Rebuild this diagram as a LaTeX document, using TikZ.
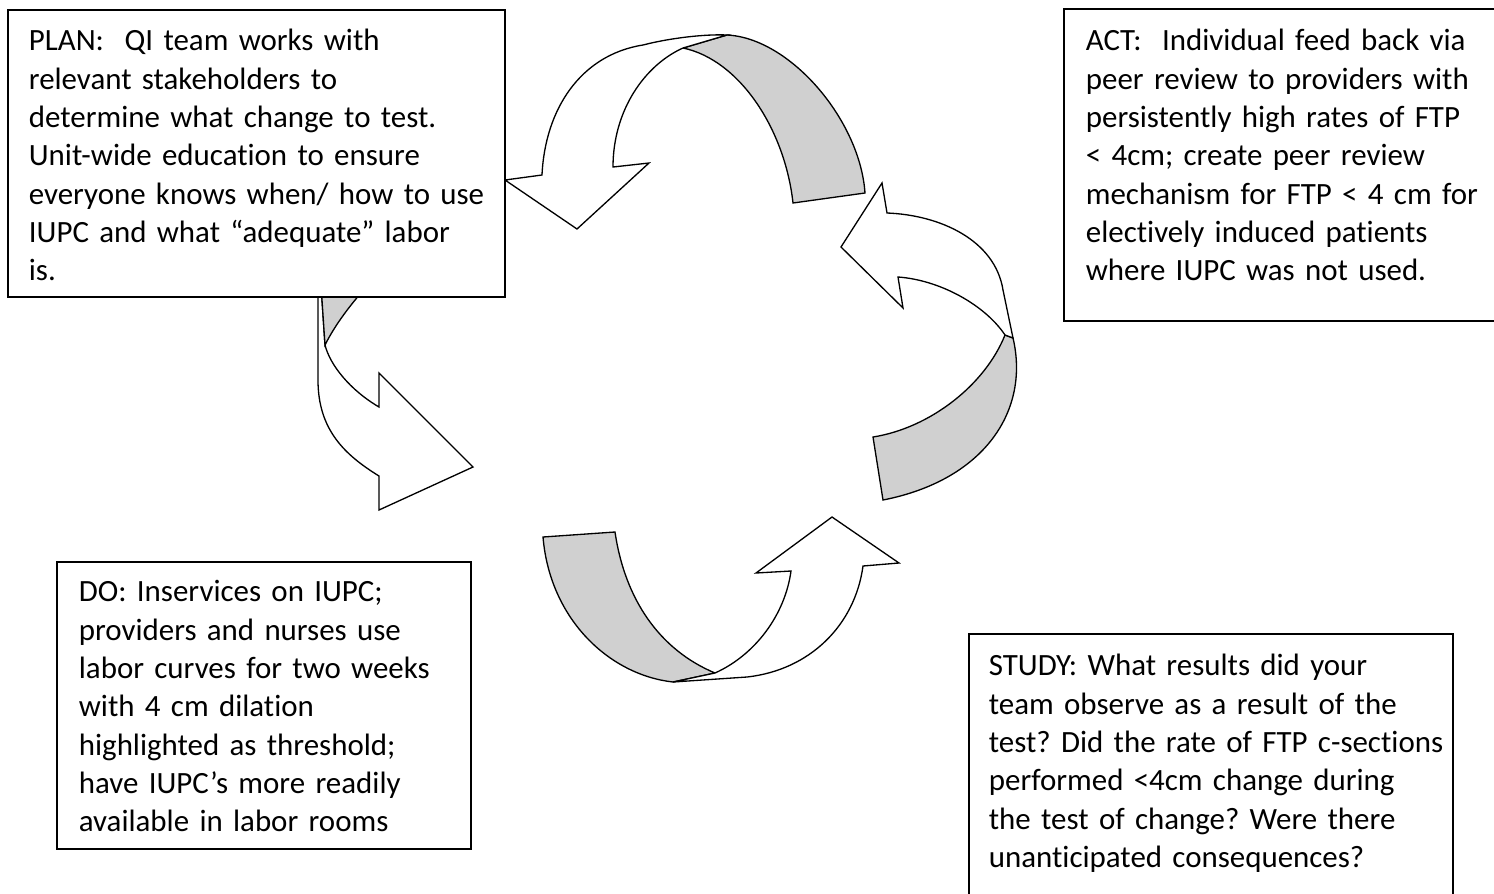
\documentclass[tikz,border=0pt]{standalone}
\usepackage{fontspec}
\setmainfont{Carlito}[Ligatures=NoCommon]
\usepackage{tikz}
\usetikzlibrary{positioning}
\definecolor{bandgray}{RGB}{208,208,208}
\frenchspacing

\begin{document}
\begin{tikzpicture}[
    x=0.02cm,
    y=-0.02cm,
    font=\fontsize{17.6}{21.8}\selectfont,
    stage/.style={
		rectangle,
		draw=black,
		line width=1pt,
		fill=white,
		anchor=north west,
		align=left,
		inner ysep=0pt
	},
	front/.style={
		draw=black,
		line width=0.75pt,
		fill=white
	},
	band/.style={
		front,
		fill=bandgray
	}
  ]
  \useasboundingbox (0,0) rectangle (1494,893);

    % The bent arrows go first, the blocks are laid on top of them

  % top arrow
  \draw [band] (683,48) -- (727,35) .. controls (790,38) and (860,120) .. (865,193) -- (793,203) .. controls (785,130) and (740,60) .. (683,48) -- cycle;
  \draw [front] (727,35) .. controls (705,34) and (670,38) .. (643,45) .. controls (580,55) and (545,110) .. (542,175) -- (505,180) -- (577,229) -- (649,163) -- (613,167) .. controls (613,110) and (645,65) .. (683,48) -- cycle;

  % left arrow
  \draw [front] (318,285) -- (318,380) .. controls (318,430) and (345,455) .. (379,476) -- (379,510) -- (473,467) -- (379,373) -- (379,407) .. controls (350,390) and (330,365) .. (325,345) -- (321,285) -- cycle;
  \draw [band] (321,285) -- (325,345) .. controls (335,325) and (350,305) .. (368,285) -- cycle;

  % bottom arrow
  \draw [band] (543,537) -- (615,532) .. controls (625,600) and (660,650) .. (715,673) -- (673,682) .. controls (610,675) and (550,620) .. (543,537) -- cycle;
  \draw [front] (673,682) -- (747,677) .. controls (810,670) and (855,625) .. (863,566) -- (899,563) -- (832,517) -- (756,573) -- (791,571) .. controls (785,615) and (755,655) .. (715,673) -- cycle;

  % right arrow
  \draw [band] (1005,335) -- (1013,338) .. controls (1030,410) and (985,480) .. (883,500) -- (873,437) .. controls (930,428) and (985,385) .. (1005,335) -- cycle;
  \draw [front] (1013,338) -- (1003,290) .. controls (995,240) and (940,215) .. (887,213) -- (882,183) -- (841,247) -- (903,308) -- (898,277) .. controls (940,280) and (985,305) .. (1005,335) -- cycle;

  \node [stage, inner xsep=0.42cm, text width=9.1cm, text height=0.82cm, text depth=4.92cm] (plan) at (7,9)
 {%
 \begin{tabular}[t]{@{}l@{}}
  PLAN:\ \ QI team works with\\
  relevant stakeholders to\\
  determine what change to test.\\
  Unit-wide education to ensure\\
  everyone knows when/ how to use\\
  IUPC and what “adequate” labor\\
  is.
 \end{tabular}
 };

  \node [stage, inner xsep=0.44cm, text width=7.86cm, text height=0.84cm, text depth=5.4cm] (act) at (1063,8)
 {%
 \begin{tabular}[t]{@{}l@{}}
  ACT:\ \ Individual feed back via\\
  peer review to providers with\\
  persistently high rates of FTP\\
  < 4cm; create peer review\\
  mechanism for FTP < 4 cm for\\
  electively induced patients\\
  where IUPC was not used.
 \end{tabular}
 };

  \node [stage, inner xsep=0.44cm, text width=7.4cm, text height=0.8cm, text depth=4.94cm] (do) at (56,561)
 {%
 \begin{tabular}[t]{@{}l@{}}
  DO: Inservices on IUPC;\\
  providers and nurses use\\
  labor curves for two weeks\\
  with 4 cm dilation\\
  highlighted as threshold;\\
  have IUPC’s more readily\\
  available in labor rooms
 \end{tabular}
 };

  \node [stage, inner xsep=0.4cm, text width=8.88cm, text height=0.84cm, text depth=4.5cm] (study) at (968,633)
 {%
 \begin{tabular}[t]{@{}l@{}}
  STUDY: What results did your\\
  team observe as a result of the\\
  test? Did the rate of FTP c-sections\\
  performed <4cm change during\\
  the test of change? Were there\\
  unanticipated consequences?
 \end{tabular}
 };

\end{tikzpicture}
\end{document}
